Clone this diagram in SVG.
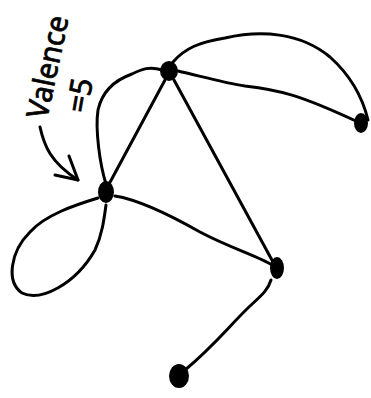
<svg xmlns="http://www.w3.org/2000/svg" width="371" height="398" viewBox="0 0 371 398">
<style>
.e{fill:none;stroke:#000;stroke-width:3;stroke-linecap:round;stroke-linejoin:round}
.n{fill:#000}
.t{font-family:"Noto Sans",sans-serif;fill:#000;stroke:#000;stroke-width:0.8}
</style>
<rect width="371" height="398" fill="#fff"/>
<g id="connectors">
<path class="e" d="M178,71 C200,76 225,83 245,86 C280,90 300,95 358,122"/>
<path class="e" d="M173,62 C185,48 200,42 225,38 C260,30 300,32 330,57 C350,75 362,95 368,120"/>
<path class="e" d="M165,80 L108,186"/>
<path class="e" d="M174,80 L273,262"/>
<path class="e" d="M106,184 C100,165 95,130 98,110 C102,92 115,80 132,74 C142,69 150,66 162,70"/>
<path class="e" d="M98,198 C75,205 45,215 30,232 C10,252 6,282 22,293 C40,302 75,285 95,250 C102,235 104,220 106,205"/>
<path class="e" d="M115,196 C140,200 170,215 200,232 C230,248 258,256 272,265"/>
<path class="e" d="M271,280 C268,290 262,295 250,306 C230,325 215,345 185,370"/>
<path class="e" d="M40,127 C44,145 50,162 78,180"/>
<path class="e" d="M78,180 L55,175 M78,180 L69,156"/>
</g>
<g id="node-a"><ellipse class="n" cx="169" cy="71" rx="9" ry="10"/></g>
<g id="node-b"><ellipse class="n" cx="361" cy="123" rx="7" ry="10"/></g>
<g id="node-c"><ellipse class="n" cx="106" cy="192" rx="8" ry="11"/></g>
<g id="node-d"><ellipse class="n" cx="277" cy="268" rx="7" ry="11"/></g>
<g id="node-e"><ellipse class="n" cx="179" cy="376" rx="10" ry="12"/></g>
<g id="label">
<text class="t" font-size="30" transform="translate(47,120) rotate(-78)" textLength="104" lengthAdjust="spacingAndGlyphs">Valence</text>
<text class="t" font-size="30" transform="translate(87,114) rotate(-80)">=5</text>
</g>
</svg>
